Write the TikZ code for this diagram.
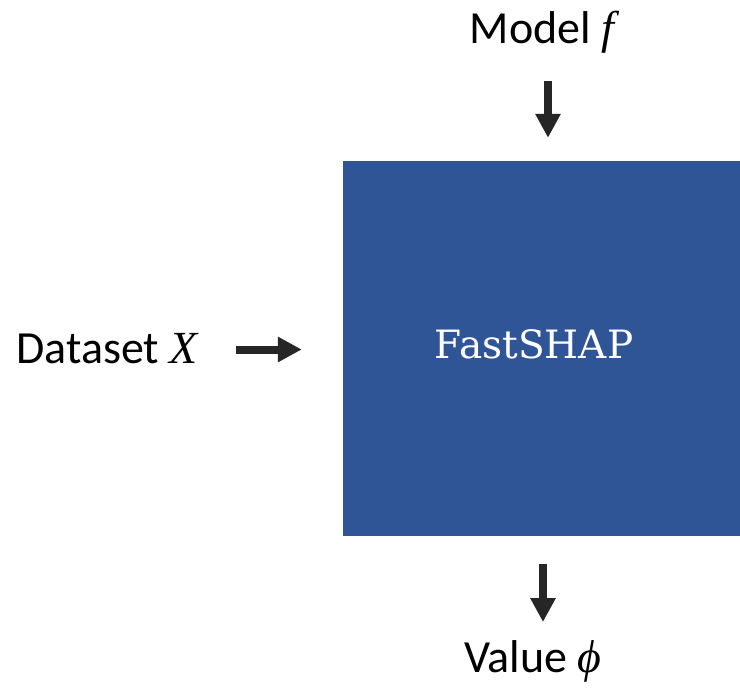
\documentclass[tikz,border=0pt]{standalone}
\usepackage{fontspec}
\setmainfont{Carlito}
\newfontfamily\boxfont{DejaVu Serif}
\newfontfamily\symfont{Liberation Serif}
\newcommand{\sym}[1]{{\symfont\itshape #1}}
\usetikzlibrary{arrows.meta}
\definecolor{boxblue}{HTML}{2F5597}
\definecolor{arrowgray}{HTML}{262626}
\tikzset{
  lbl/.style={font=\fontsize{46}{54}\selectfont, anchor=base, inner sep=0pt},
  blockbox/.style={fill=boxblue, draw=none, minimum width=397pt, minimum height=375pt, inner sep=0pt},
  blocklabel/.style={text=white, font=\boxfont\fontsize{39}{46}\selectfont, anchor=base, inner sep=0pt},
  fatarrow/.style={draw=arrowgray, line width=8pt, -{Triangle[length=24pt,width=24pt]}}
}
\begin{document}
\begin{tikzpicture}[x=1pt,y=-1pt]
  \useasboundingbox (0,0) rectangle (740,688);
  % central block
  \node[blockbox] (fs) at (541.5,348.5) {};
  \node[blocklabel] (fstext) at (534,358) {FastSHAP};
  % inputs and output
  \node[lbl] (model) at (542,43) {Model \sym{f}};
  \node[lbl] (data) at (107,363) {Dataset \sym{X}};
  \node[lbl] (value) at (533,672) {Value \sym{ϕ}};
  % arrow tails
  \coordinate (mtail) at (548,81);
  \coordinate (dtail) at (236,349.5);
  \coordinate (vtip) at (543,622);
  % connectors
  \draw[fatarrow, shorten >=23pt] (mtail) -- (mtail |- fs.north);
  \draw[fatarrow, shorten >=41pt] (dtail) -- (dtail -| fs.west);
  \draw[fatarrow, shorten <=28pt] (vtip |- fs.south) -- (vtip);
\end{tikzpicture}
\end{document}
